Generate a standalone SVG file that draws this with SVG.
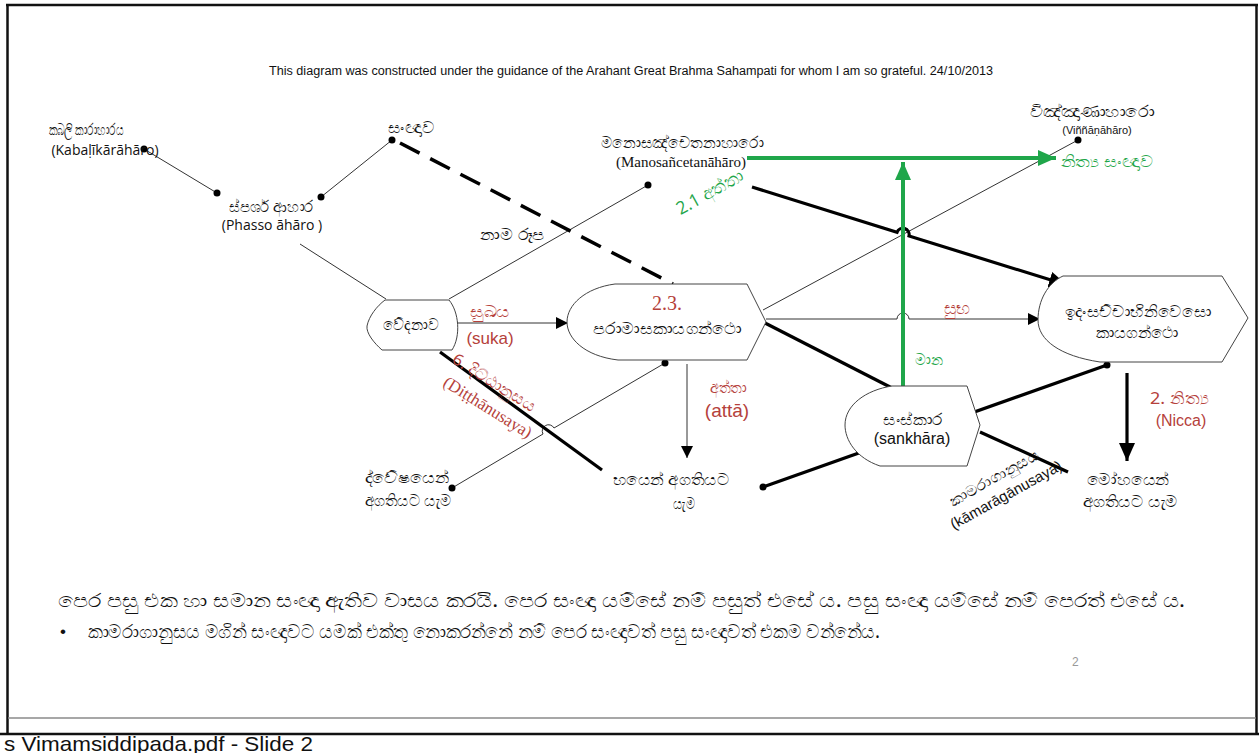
<svg xmlns="http://www.w3.org/2000/svg" width="1259" height="753" viewBox="0 0 1259 753">
  <style>
    .si { font-family: "Noto Sans", "DejaVu Sans", sans-serif; fill: #111; }
    .sans { font-family: "Liberation Sans", Arial, sans-serif; fill: #111; }
    .os { font-family: "Open Sans", "Noto Sans", sans-serif; fill: #111; }
    .serif { font-family: "Liberation Serif", "Times New Roman", serif; fill: #111; }
    .red { fill: #b5413b; }
    .green { fill: #1fa64a; }
    .node { fill: #fff; stroke: #444; stroke-width: 1; }
    .thin { fill: none; stroke: #333; stroke-width: 1; }
    .thick { fill: none; stroke: #000; stroke-width: 3.2; }
    .gline { fill: none; stroke: #1fa64a; stroke-width: 4; }
    .dot { fill: #000; }
  </style>
  <defs>
    <marker id="arrThin" markerUnits="userSpaceOnUse" markerWidth="14" markerHeight="12" refX="12" refY="6" orient="auto">
      <path d="M0,0 L12,6 L0,12 Z" fill="#000"/>
    </marker>
    <marker id="arrThick" markerUnits="userSpaceOnUse" markerWidth="20" markerHeight="16" refX="18" refY="8" orient="auto">
      <path d="M0,0 L18,8 L0,16 Z" fill="#000"/>
    </marker>
    <marker id="arrGreen" markerUnits="userSpaceOnUse" markerWidth="20" markerHeight="16" refX="18" refY="8" orient="auto">
      <path d="M0,0 L18,8 L0,16 Z" fill="#1fa64a"/>
    </marker>
  </defs>

  <!-- page frame -->
  <g id="frame" fill="none">
    <line x1="6" y1="5" x2="1258" y2="5" stroke="#111" stroke-width="2.5"/>
    <line x1="7.5" y1="4" x2="7.5" y2="734" stroke="#111" stroke-width="2.5"/>
    <line x1="1256.5" y1="4" x2="1256.5" y2="734" stroke="#111" stroke-width="2.5"/>
    <line x1="8" y1="718" x2="1256" y2="718" stroke="#8a8a8a" stroke-width="1.5"/>
    <line x1="0" y1="734" x2="1259" y2="734" stroke="#111" stroke-width="2.5"/>
  </g>
  <text class="sans" x="4" y="751" font-size="21" textLength="309" lengthAdjust="spacingAndGlyphs">s  Vimamsiddipada.pdf - Slide 2</text>

  <text class="sans" x="631" y="75" font-size="12" text-anchor="middle" textLength="724" lengthAdjust="spacingAndGlyphs">This diagram was constructed under the guidance of the Arahant Great Brahma Sahampati for whom I am so grateful. 24/10/2013</text>

  <!-- connectors -->
  <g id="connectors">
    <line class="thin" x1="144" y1="149" x2="217" y2="193"/>
    <line class="thin" x1="321" y1="197" x2="392" y2="140"/>
    <line class="thin" x1="300" y1="244" x2="386" y2="299"/>
    <line class="thin" x1="449" y1="299" x2="648" y2="185"/>
    <line x1="400" y1="143" x2="673" y2="284" stroke="#000" stroke-width="3.5" stroke-dasharray="22 12"/>
    <line class="thin" x1="457" y1="323" x2="568" y2="323" marker-end="url(#arrThin)"/>
    <path class="thin" d="M766,319 H897 A6,6 0 0 1 909,319 H1040" marker-end="url(#arrThin)"/>
    <line class="thin" x1="763" y1="310" x2="1078" y2="140"/>
    <path class="thin" d="M665,363 L554,428 A6,6 0 0 0 543,434 L452,488"/>
    <line class="thin" x1="687" y1="364" x2="687" y2="458" marker-end="url(#arrThin)"/>
    <line class="thick" x1="440" y1="352" x2="602" y2="470"/>
    <line class="thick" x1="765" y1="323" x2="892" y2="388"/>
    <path class="thick" d="M752,187 L897,232.3 A6.3,6.3 0 0 1 909,236 L1067,285" marker-end="url(#arrThick)"/>
    <line class="thick" x1="763" y1="487" x2="1107" y2="365" stroke-width="2.6"/>
    <line class="thick" x1="1127" y1="373" x2="1127" y2="461" marker-end="url(#arrThick)"/>
    <line class="thick" x1="980" y1="432" x2="1068" y2="472"/>
    <line class="gline" x1="747" y1="158" x2="1056" y2="158" marker-end="url(#arrGreen)"/>
    <line class="gline" x1="903" y1="386" x2="903" y2="162" marker-end="url(#arrGreen)"/>
    <!-- end dots -->
    <circle class="dot" cx="144" cy="149" r="3.5"/>
    <circle class="dot" cx="217" cy="193" r="3.5"/>
    <circle class="dot" cx="321" cy="197" r="3.5"/>
    <circle class="dot" cx="392" cy="140" r="3.5"/>
    <circle class="dot" cx="648" cy="185" r="3.5"/>
    <circle class="dot" cx="1078" cy="140" r="3.5"/>
    <circle class="dot" cx="665" cy="363" r="3.5"/>
    <circle class="dot" cx="452" cy="488" r="3.5"/>
    <circle class="dot" cx="763" cy="487" r="3.5"/>
    <circle class="dot" cx="1107" cy="365" r="3.5"/>
  </g>

  <!-- connector labels -->
  <g id="labels">
    <text class="si" x="512" y="240" font-size="16" text-anchor="middle" textLength="65" lengthAdjust="spacingAndGlyphs">නාම රූප</text>
    <text class="si red" x="490" y="317" font-size="16" text-anchor="middle" textLength="40" lengthAdjust="spacingAndGlyphs">සුඛය</text>
    <text class="sans red" x="490" y="344" font-size="17" text-anchor="middle">(suka)</text>
    <text class="si red" x="957" y="314" font-size="17" text-anchor="middle" textLength="26" lengthAdjust="spacingAndGlyphs">සුභ</text>
    <text class="si green" x="929" y="365" font-size="15" text-anchor="middle" textLength="28" lengthAdjust="spacingAndGlyphs">මාන</text>
    <text class="si red" x="728" y="393" font-size="16" text-anchor="middle" textLength="37" lengthAdjust="spacingAndGlyphs">අත්තා</text>
    <text class="sans red" x="727" y="417" font-size="19" text-anchor="middle">(attā)</text>
    <text class="si red" x="1179" y="404" font-size="17" text-anchor="middle" textLength="58" lengthAdjust="spacingAndGlyphs">2. නිත්‍ය</text>
    <text class="sans red" x="1181" y="426" font-size="16" text-anchor="middle">(Nicca)</text>
    <text class="si green" x="1107" y="167" font-size="16" text-anchor="middle" textLength="93" lengthAdjust="spacingAndGlyphs">නිත්‍ය සංඥාව</text>
    <text class="os green" x="710" y="198" font-size="18" text-anchor="middle" transform="rotate(-29 710 192)" textLength="74" lengthAdjust="spacingAndGlyphs">2.1 අත්තා</text>
    <text class="si red" x="494" y="388" font-size="16" text-anchor="middle" transform="rotate(32 494 383)" textLength="95" lengthAdjust="spacingAndGlyphs">6. දිට්ඨානුසය</text>
    <text class="serif red" x="488" y="413" font-size="17" text-anchor="middle" transform="rotate(32 488 407)">(Diṭṭhānusaya)</text>
    <text class="si" x="994" y="483" font-size="15" text-anchor="middle" transform="rotate(-29 994 478)" textLength="100" lengthAdjust="spacingAndGlyphs">කාමරාගානුසය</text>
    <text class="sans" x="1006" y="500" font-size="15" text-anchor="middle" transform="rotate(-29 1006 495)">(kāmarāgānusaya)</text>
  </g>

  <!-- nodes -->
  <g id="kabali">
    <text class="si" x="86" y="135" font-size="16" text-anchor="middle" textLength="75" lengthAdjust="spacingAndGlyphs">කබලි කාරාහාරය</text>
    <text class="os" x="105" y="155" font-size="14" text-anchor="middle">(Kabaḷīkārāhāro)</text>
  </g>
  <g id="phasso">
    <text class="si" x="271" y="212" font-size="16" text-anchor="middle" textLength="85" lengthAdjust="spacingAndGlyphs">ස්පර්ශ ආහාර</text>
    <text class="os" x="272" y="230" font-size="14" text-anchor="middle">(Phasso āhāro )</text>
  </g>
  <g id="sanna">
    <text class="si" x="411" y="133" font-size="16" text-anchor="middle" textLength="47" lengthAdjust="spacingAndGlyphs">සංඥාව</text>
  </g>
  <g id="manosancetana">
    <text class="si" x="682" y="148" font-size="16" text-anchor="middle" textLength="163" lengthAdjust="spacingAndGlyphs">මනොසඤ්චෙතනාහාරො</text>
    <text class="serif" x="681" y="167" font-size="15" text-anchor="middle">(Manosañcetanāhāro)</text>
  </g>
  <g id="vinnana">
    <text class="si" x="1092" y="117" font-size="16" text-anchor="middle" textLength="125" lengthAdjust="spacingAndGlyphs">විඤ්ඤාණාහාරො</text>
    <text class="sans" x="1097" y="134" font-size="11" text-anchor="middle">(Viññāṇāhāro)</text>
  </g>
  <g id="vedana">
    <path class="node" d="M385,300 H449 C459,312 461,336 452,350 H382 C374,343 366,333 367,326 C369,316 377,306 385,300 Z"/>
    <text class="si" x="411" y="330" font-size="16" text-anchor="middle" textLength="56" lengthAdjust="spacingAndGlyphs">වේදනාව</text>
  </g>
  <g id="paramasa">
    <path class="node" d="M615,284 H747 L766,322 L747,360 H618 C584,356 567,338 567,322 C567,305 585,288 615,284 Z"/>
    <text class="serif red" x="667" y="310" font-size="20" text-anchor="middle">2.3.</text>
    <text class="si" x="667" y="334" font-size="16" text-anchor="middle" textLength="149" lengthAdjust="spacingAndGlyphs">පරාමාසකායගන්ථො</text>
  </g>
  <g id="idamsacca">
    <path class="node" d="M1063,276 H1222 L1248,318 L1222,362 H1100 C1060,356 1038,340 1038,320 C1038,300 1048,283 1063,276 Z"/>
    <text class="si" x="1138" y="317" font-size="16" text-anchor="middle" textLength="147" lengthAdjust="spacingAndGlyphs">ඉදංසච්චාභිනිවෙසො</text>
    <text class="si" x="1137" y="338" font-size="16" text-anchor="middle" textLength="83" lengthAdjust="spacingAndGlyphs">කායගන්ථො</text>
  </g>
  <g id="sankhara">
    <path class="node" d="M892,386 H967 L980,425 L967,466 H880 C856,458 845,440 845,425 C845,405 866,390 892,386 Z"/>
    <text class="si" x="913" y="425" font-size="16" text-anchor="middle" textLength="60" lengthAdjust="spacingAndGlyphs">සංස්කාර</text>
    <text class="sans" x="912" y="444" font-size="16" text-anchor="middle">(sankhāra)</text>
  </g>
  <g id="dvesha">
    <text class="si" x="407" y="483" font-size="16" text-anchor="middle" textLength="85" lengthAdjust="spacingAndGlyphs">ද්වේෂයෙන්</text>
    <text class="si" x="408" y="506" font-size="16" text-anchor="middle" textLength="87" lengthAdjust="spacingAndGlyphs">අගතියට යැම</text>
  </g>
  <g id="bhaya">
    <text class="si" x="671" y="485" font-size="16" text-anchor="middle" textLength="117" lengthAdjust="spacingAndGlyphs">භයෙන් අගතියට</text>
    <text class="si" x="684" y="509" font-size="16" text-anchor="middle" textLength="22" lengthAdjust="spacingAndGlyphs">යැම</text>
  </g>
  <g id="moha">
    <text class="si" x="1128" y="485" font-size="16" text-anchor="middle" textLength="83" lengthAdjust="spacingAndGlyphs">මෝහයෙන්</text>
    <text class="si" x="1130" y="507" font-size="16" text-anchor="middle" textLength="95" lengthAdjust="spacingAndGlyphs">අගතියට යැම</text>
  </g>

  <!-- notes -->
  <text class="si" x="58" y="607" font-size="19" textLength="1127" lengthAdjust="spacingAndGlyphs">පෙර පසු එක හා සමාන සංඥා ඇතිව වාසය කරයි. පෙර සංඥා යම්සේ නම් පසුත් එසේ ය. පසු සංඥා යම්සේ නම් පෙරත් එසේ ය.</text>
  <text class="sans" x="60" y="637" font-size="17">•</text>
  <text class="si" x="88" y="638" font-size="19" textLength="792" lengthAdjust="spacingAndGlyphs">කාමරාගානුසය මගින් සංඥාවට යමක් එක්තු නොකරන්නේ නම් පෙර සංඥාවත් පසු සංඥාවත් එකම වන්නේය.</text>
  <text class="sans" x="1072" y="666" font-size="12" style="fill:#999">2</text>
</svg>
